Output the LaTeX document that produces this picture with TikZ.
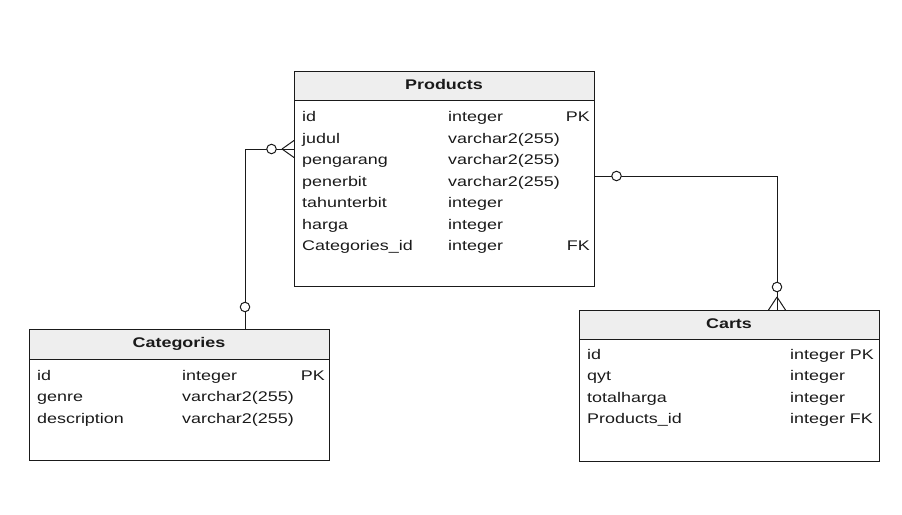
\documentclass[tikz,border=0pt]{standalone}
\usepackage{graphicx}
\usepackage{fontspec}
\setmainfont{Liberation Sans}
\definecolor{hdr}{HTML}{EEEEEE}
\definecolor{ln}{HTML}{1A1A1A}
\newcommand{\wdtxt}[1]{\scalebox{1.28}[1]{#1}}
\begin{document}
\begin{tikzpicture}[x=1pt,y=-1pt,
  tbl/.style={draw=ln,line width=1pt,rectangle,inner sep=0pt,anchor=north west},
  hdrbox/.style={draw=ln,line width=1pt,fill=hdr,rectangle,inner sep=0pt,anchor=north west},
  ttl/.style={inner sep=0pt,anchor=base,font=\fontsize{14}{16}\selectfont\bfseries,text=ln},
  cell/.style={anchor=base west,inner sep=0pt,font=\fontsize{14}{16}\selectfont,text=ln},
  cellr/.style={anchor=base east,inner sep=0pt,font=\fontsize{14}{16}\selectfont,text=ln},
  conn/.style={draw=ln,line width=1pt},
  ring/.style={circle,draw=ln,fill=white,line width=1pt,minimum size=9.5pt,inner sep=0pt}]
\useasboundingbox (0,0) rectangle (902,514);
% Products
\node[tbl,minimum width=300pt,minimum height=215pt] (prod) at (294,71) {};
\node[hdrbox,minimum width=300pt,minimum height=29pt] (prodh) at (294,71) {};
\node[ttl] (prodt) at (444,89) {\wdtxt{Products}};
\foreach \n/\b/\c [count=\i from 0] in {id/integer/PK,judul/varchar2(255)/,pengarang/varchar2(255)/,penerbit/varchar2(255)/,tahunterbit/integer/,harga/integer/,Categories\_id/integer/FK}{
  \node[cell] (p\i a) at (302,{121.5+21.5*\i}) {\wdtxt{\n}};
  \node[cell] (p\i b) at (448,{121.5+21.5*\i}) {\wdtxt{\b}};
  \node[cellr] (p\i c) at (590,{121.5+21.5*\i}) {\wdtxt{\c}};
}
% Categories
\node[tbl,minimum width=300pt,minimum height=131pt] (cat) at (29,329) {};
\node[hdrbox,minimum width=300pt,minimum height=30pt] (cath) at (29,329) {};
\node[ttl] (catt) at (179,347) {\wdtxt{Categories}};
\foreach \n/\b/\c [count=\i from 0] in {id/integer/PK,genre/varchar2(255)/,description/varchar2(255)/}{
  \node[cell] (c\i a) at (37,{380+21.5*\i}) {\wdtxt{\n}};
  \node[cell] (c\i b) at (182,{380+21.5*\i}) {\wdtxt{\b}};
  \node[cellr] (c\i c) at (325,{380+21.5*\i}) {\wdtxt{\c}};
}
% Carts
\node[tbl,minimum width=300pt,minimum height=151pt] (cart) at (579,310) {};
\node[hdrbox,minimum width=300pt,minimum height=29pt] (carth) at (579,310) {};
\node[ttl] (cartt) at (729,328) {\wdtxt{Carts}};
\foreach \n/\b [count=\i from 0] in {id/integer PK,qyt/integer,totalharga/integer,Products\_id/integer FK}{
  \node[cell] (k\i a) at (587,{359+21.5*\i}) {\wdtxt{\n}};
  \node[cell] (k\i b) at (790,{359+21.5*\i}) {\wdtxt{\b}};
}
% Categories -> Products
\coordinate (cA) at (245,329);
\coordinate (cB) at (245,149);
\coordinate (pL) at (294,149);
\draw[conn] (cA) -- (cB) -- (pL);
\coordinate (cf1) at (282,149);
\draw[conn] (cf1) -- (294,140.5);
\draw[conn] (cf1) -- (294,157.5);
\node[ring] (r1) at (271.5,149) {};
\node[ring] (r2) at (245,307) {};
% Products -> Carts
\coordinate (pR) at (594,176);
\coordinate (kB) at (777,176);
\coordinate (kT) at (777,310);
\draw[conn] (pR) -- (kB) -- (kT);
\coordinate (cf2) at (777,297);
\draw[conn] (cf2) -- (768.5,310);
\draw[conn] (cf2) -- (785.5,310);
\node[ring] (r3) at (616.5,176) {};
\node[ring] (r4) at (777,287) {};
\end{tikzpicture}
\end{document}
